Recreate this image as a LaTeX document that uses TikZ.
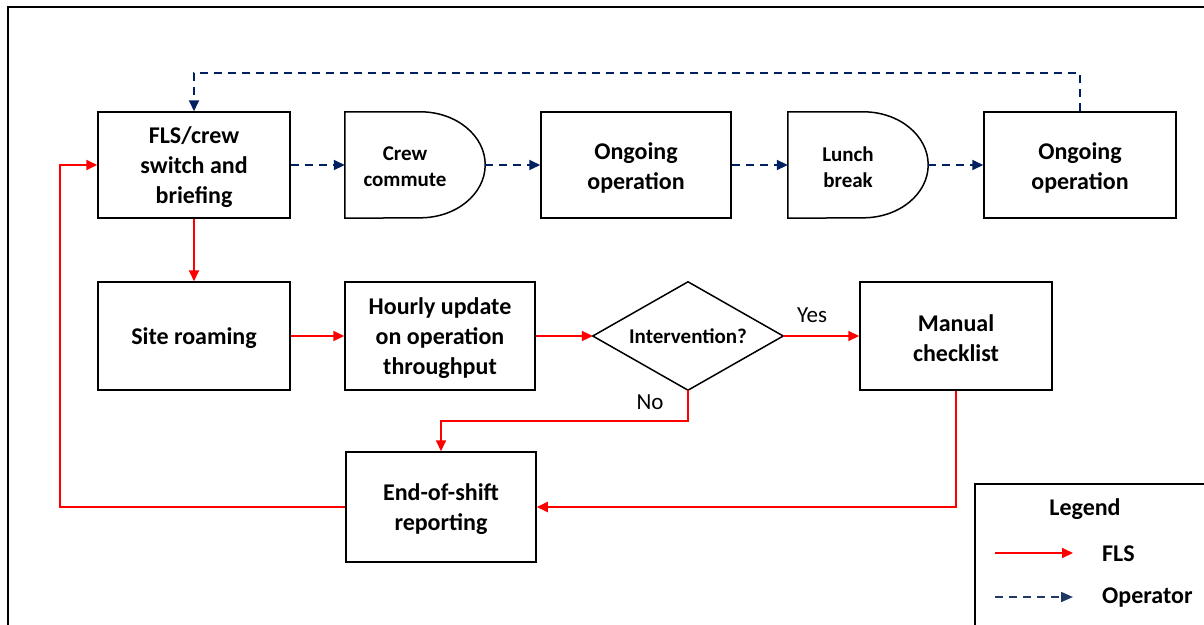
\documentclass[tikz,border=0pt]{standalone}
\usepackage{fontspec}
\setmainfont{Carlito}
\usetikzlibrary{arrows.meta,calc}
\definecolor{navy}{HTML}{002060}
\definecolor{legnavy}{HTML}{1F3864}
\definecolor{flsred}{HTML}{FF0000}
\begin{document}
\begin{tikzpicture}[x=1pt,y=-1pt,
  box/.style={draw=black,line width=1.5pt,minimum width=192pt,minimum height=106pt,inner sep=0pt},
  tallbox/.style={box,minimum height=108pt},
  boxtext/.style={font=\fontsize{24}{30}\selectfont\bfseries,align=center,inner sep=0pt,yshift=-2.5pt},
  delaybox/.style={minimum width=140pt,minimum height=106pt,inner sep=0pt},
  delaytext/.style={font=\fontsize{21}{26}\selectfont\bfseries,align=center,inner sep=0pt,xshift=-10pt,yshift=-2pt},
  diabox/.style={minimum width=190pt,minimum height=108pt,inner sep=0pt,font=\fontsize{21}{26}\selectfont\bfseries},
  flsarrow/.style={draw=flsred,line width=1.8pt,-{Triangle[length=11pt,width=10pt]}},
  oparrow/.style={draw=navy,line width=1.8pt,dash pattern=on 8pt off 6pt,-{Triangle[length=11pt,width=10pt]}},
  legoparrow/.style={draw=legnavy,line width=1.8pt,dash pattern=on 8pt off 6pt,-{Triangle[length=12pt,width=10pt]}},
  lbl/.style={font=\fontsize{23}{28}\selectfont},
  legtext/.style={font=\fontsize{24}{30}\selectfont\bfseries,inner sep=0pt}
]
\clip (0,0) rectangle (1204,624);
% outer frame
\draw[line width=2.5pt] (8,640) -- (8,7) -- (1215,7);

% top row
\node[box,label={[boxtext,name=flst]center:FLS/crew\\switch and\\briefing}] (fls) at (194,165) {};
\node[delaybox,label={[delaytext,name=cct]center:Crew\\commute}] (cc) at (415,165) {};
\draw[line width=1.5pt] (cc.north west) -- ($(cc.north east)+(-65,0)$)
  arc[start angle=-90,end angle=90,x radius=65,y radius=53] -- (cc.south west) -- cycle;
\node[box,minimum width=190pt,label={[boxtext,name=op1t]center:Ongoing\\operation}] (op1) at (636,165) {};
\node[delaybox,label={[delaytext,name=lbt]center:Lunch\\break}] (lb) at (858,165) {};
\draw[line width=1.5pt] (lb.north west) -- ($(lb.north east)+(-65,0)$)
  arc[start angle=-90,end angle=90,x radius=65,y radius=53] -- (lb.south west) -- cycle;
\node[box,label={[boxtext,name=op2t]center:Ongoing\\operation}] (op2) at (1080,165) {};

% middle row
\node[tallbox,label={[boxtext,name=srt]center:Site roaming}] (sr) at (194,336) {};
\node[tallbox,minimum width=190pt,label={[boxtext,name=hut]center:Hourly update\\on operation\\throughput}] (hu) at (440,336) {};
\node[diabox] (dia) at (688,336) {Intervention?};
\draw[line width=1.5pt] (dia.north) -- (dia.east) -- (dia.south) -- (dia.west) -- cycle;
\node[tallbox,label={[boxtext,name=mct]center:Manual\\checklist}] (mc) at (956,336) {};

% bottom
\node[box,minimum width=190pt,minimum height=110pt,label={[boxtext,name=eost]center:End-of-shift\\reporting}] (eos) at (441,507) {};

% operator connectors
\draw[oparrow] (fls.east) -- (cc.west);
\draw[oparrow] (cc.east) -- (op1.west);
\draw[oparrow] (op1.east) -- (lb.west);
\draw[oparrow] (lb.east) -- (op2.west);
\draw[oparrow] (op2.north) -- ++(0,-38) -| (fls.north);

% FLS connectors
\draw[flsarrow] (fls.south) -- (sr.north);
\draw[flsarrow] (sr.east) -- (hu.west);
\draw[flsarrow] (hu.east) -- (dia.west);
\draw[flsarrow] (dia.east) -- node[lbl,pos=0.38,yshift=21pt] (yes) {Yes} (mc.west);
\draw[flsarrow] (dia.south) -- node[lbl,pos=0.4,xshift=-38pt] (no) {No} ++(0,31) -| (eos.north);
\draw[flsarrow] (mc.south) |- (eos.east);
\draw[flsarrow] (eos.west) -- ++(-285,0) |- (fls.west);

% legend
\draw[line width=1.6pt] (975,640) -- (975,484) -- (1220,484);
\node[legtext] (legt) at (1085,509) {Legend};
\coordinate (lfa) at (995,553);
\coordinate (lfb) at (1073,553);
\draw[flsarrow] (lfa) -- (lfb);
\node[legtext,anchor=west] (legfls) at (1102,554) {FLS};
\coordinate (loa) at (995,597);
\coordinate (lob) at (1073,597);
\draw[legoparrow] (loa) -- (lob);
\node[legtext,anchor=west] (legop) at (1102,598) {Operator};
\end{tikzpicture}
\end{document}
